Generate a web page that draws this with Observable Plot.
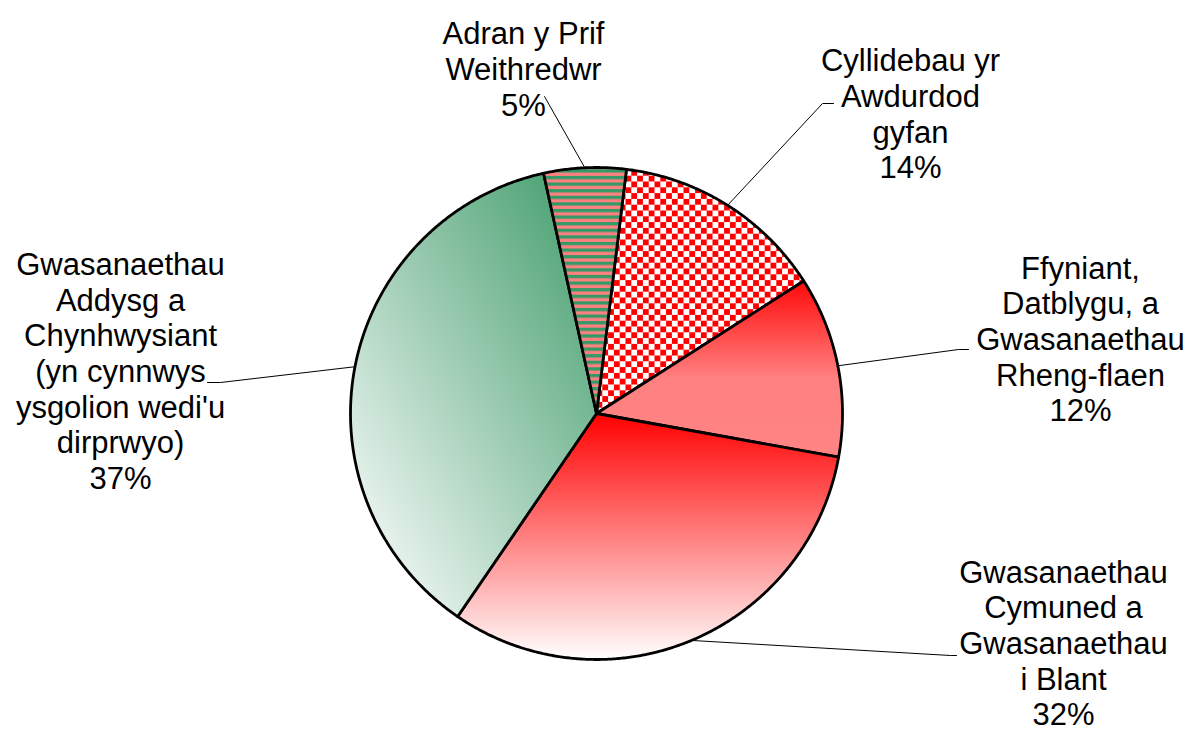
<!DOCTYPE html>
<html>
<head>
<meta charset="utf-8">
<script src="https://cdn.jsdelivr.net/npm/d3@7"></script>
<script src="https://cdn.jsdelivr.net/npm/@observablehq/plot@0.6"></script>
<style>
  html, body { margin: 0; padding: 0; background: #ffffff; }
  #chart { width: 1195px; height: 731px; overflow: hidden; }
</style>
</head>
<body>
<div id="chart"></div>
<script>
// ---- Data ----
const categories = [
  "Cyllidebau yr\nAwdurdod\ngyfan",
  "Ffyniant,\nDatblygu, a\nGwasanaethau\nRheng-flaen",
  "Gwasanaethau\nCymuned a\nGwasanaethau\ni Blant",
  "Gwasanaethau\nAddysg a\nChynhwysiant\n(yn cynnwys\nysgolion wedi'u\ndirprwyo)",
  "Adran y Prif\nWeithredwr"
];
const values = [14.0, 11.9, 31.7, 37.0, 5.4];

// ---- Layout / style (not data) ----
const W = 1195, H = 731;
const cx = 596, cy = 413, R = 246;
const startDeg = 7;
const fills = ["url(#chk)", "url(#gFf)", "url(#gCy)", "url(#gAd)", "url(#str)"];
// label block centres and leader elbow/end points
const labelPos = [
  {x: 910, y: 113, elbow: [822, 103], end: [833, 103]},
  {x: 1080, y: 338, elbow: [958, 349], end: [968, 349]},
  {x: 1063, y: 642, elbow: [950, 655], end: [956, 655]},
  {x: 120, y: 370, elbow: [220, 382], end: [207, 382]},
  {x: 523, y: 68, elbow: [544, 96], end: [544, 96]}
];

const rad = Math.PI / 180;
const pie = d3.pie().sort(null).value(d => d.value)
  .startAngle(startDeg * rad).endAngle(startDeg * rad + 2 * Math.PI);
const rows = categories.map((name, i) => ({name, value: values[i], i}));
const arcs = pie(rows);
const pt = (a, r) => ({x: cx + r * Math.sin(a), y: cy - r * Math.cos(a)});

const slicePolys = arcs.map(a => {
  const pts = [{x: cx, y: cy}];
  const n = Math.max(8, Math.ceil((a.endAngle - a.startAngle) / (0.4 * rad)));
  for (let k = 0; k <= n; k++) {
    pts.push(pt(a.startAngle + (a.endAngle - a.startAngle) * k / n, R));
  }
  pts.push({x: cx, y: cy});
  return pts;
});

const leaders = arcs.flatMap((a, i) => {
  const m = (a.startAngle + a.endAngle) / 2;
  const e = pt(m, R);
  const L = labelPos[i];
  return [
    {g: i, x: e.x, y: e.y},
    {g: i, x: L.elbow[0], y: L.elbow[1]},
    {g: i, x: L.end[0], y: L.end[1]}
  ];
});

const labels = arcs.map((a, i) => ({
  text: a.data.name + "\n" + Math.round(a.data.value) + "%",
  x: labelPos[i].x, y: labelPos[i].y
}));

const font = "'Liberation Sans', Arial, Helvetica, sans-serif";

const plot = Plot.plot({
  width: W, height: H, margin: 0,
  x: {domain: [0, W], range: [0, W], axis: null},
  y: {domain: [0, H], range: [0, H], axis: null},
  style: {background: "#ffffff", fontFamily: font, overflow: "visible"},
  marks: [
    Plot.line(leaders, {x: "x", y: "y", z: "g", stroke: "#000", strokeWidth: 1}),
    ...slicePolys.map((pts, i) =>
      Plot.line(pts, {x: "x", y: "y", fill: fills[i], stroke: "#000",
        strokeWidth: 2.8, strokeLinejoin: "round", strokeLinecap: "round"})
    ),
    Plot.text(labels, {x: "x", y: "y", text: "text", fontSize: 31, lineHeight: 1.15,
      textAnchor: "middle", lineAnchor: "middle", fill: "#000", fontFamily: font})
  ]
});

// gradient & pattern definitions
const svg = d3.select(plot);
const defs = svg.insert("defs", ":first-child");
function lin(id, x1, y1, x2, y2, stops) {
  const g = defs.append("linearGradient").attr("id", id)
    .attr("x1", x1).attr("y1", y1).attr("x2", x2).attr("y2", y2);
  stops.forEach(([o, c]) => g.append("stop").attr("offset", o).attr("stop-color", c));
}
lin("gAd", 1, 0, 0.05, 1, [[0, "#3d9a68"], [1, "#ffffff"]]);
lin("gCy", 0, 0, 0, 1, [[0, "#ff0000"], [1, "#ffffff"]]);
lin("gFf", 0, 0, 0, 1, [[0, "#ff0a0a"], [0.55, "#ff8080"], [1, "#ff8484"]]);
const s = 5.8;
const chk = defs.append("pattern").attr("id", "chk").attr("patternUnits", "userSpaceOnUse")
  .attr("width", 2 * s).attr("height", 2 * s).attr("x", cx).attr("y", cy);
chk.append("rect").attr("width", 2 * s).attr("height", 2 * s).attr("fill", "#ffffff");
chk.append("rect").attr("width", s).attr("height", s).attr("fill", "#ff0000");
chk.append("rect").attr("x", s).attr("y", s).attr("width", s).attr("height", s).attr("fill", "#ff0000");
const sp = 6.6;
const str = defs.append("pattern").attr("id", "str").attr("patternUnits", "userSpaceOnUse")
  .attr("width", 20).attr("height", sp).attr("x", 0).attr("y", cy);
str.append("rect").attr("width", 20).attr("height", sp).attr("fill", "#ff8080");
str.append("rect").attr("width", 20).attr("height", sp / 2).attr("fill", "#339966");

document.getElementById("chart").appendChild(plot);
</script>
</body>
</html>
